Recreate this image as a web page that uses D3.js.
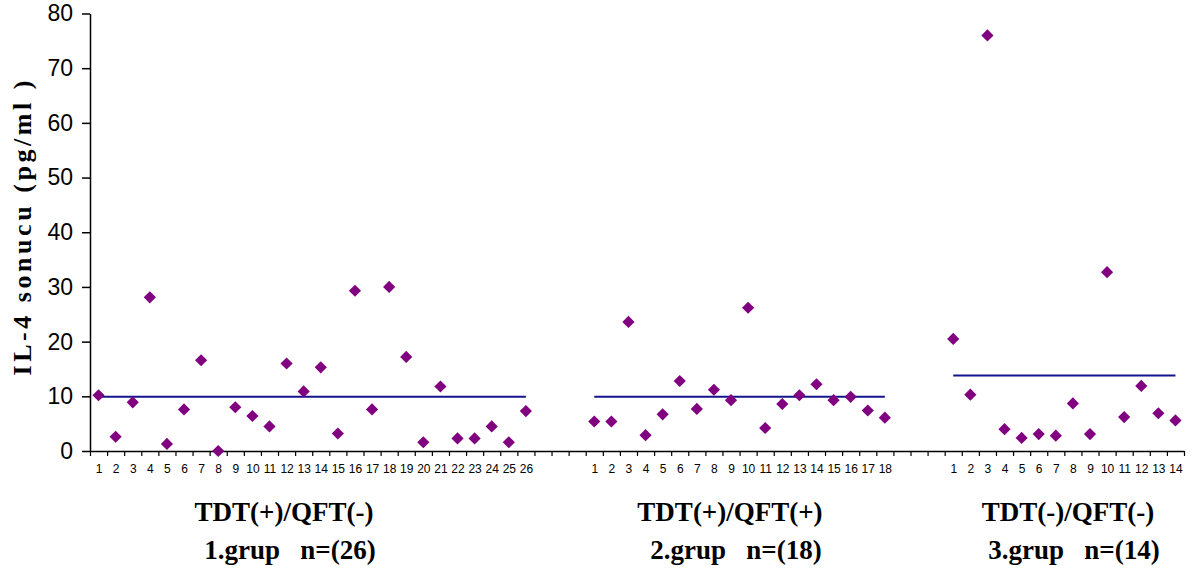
<!DOCTYPE html>
<html>
<head>
<meta charset="utf-8">
<script src="https://cdn.jsdelivr.net/npm/d3@7"></script>
<style>
  body { margin: 0; background: #fff; }
  svg { display: block; }
</style>
</head>
<body>
<div id="chart"></div>
<script>
// IL-4 values per group (pg/ml)
const group1 = [10.2, 2.6, 8.9, 28.1, 1.3, 7.6, 16.6, 0, 8.0, 6.4, 4.5, 16.0, 10.9, 15.3, 3.2, 29.3, 7.6, 30.0, 17.2, 1.6, 11.8, 2.3, 2.3, 4.5, 1.6, 7.3];
const group2 = [5.4, 5.4, 23.6, 2.9, 6.7, 12.8, 7.7, 11.2, 9.3, 26.2, 4.2, 8.6, 10.2, 12.2, 9.3, 9.9, 7.4, 6.1];
const group3 = [20.5, 10.3, 76.0, 4.0, 2.4, 3.1, 2.8, 8.7, 3.1, 32.7, 6.2, 11.9, 6.9, 5.6];
const groupMeans = [9.9, 9.9, 13.8];
const groupTitles = ["TDT(+)/QFT(-)", "TDT(+)/QFT(+)", "TDT(-)/QFT(-)"];
const groupSubtitles = ["1.grup   n=(26)", "2.grup   n=(18)", "3.grup   n=(14)"];
const yTicks = [0, 10, 20, 30, 40, 50, 60, 70, 80];
const gapSlots = 3;

const width = 1192, height = 583;
const plot = { left: 90, right: 1184, top: 13.5, bottom: 451 };
const labelX = [284, 730, 1068];

const svg = d3.select("#chart").append("svg")
    .attr("width", width)
    .attr("height", height);

// lay the groups out on one category axis, with empty slots between them
const groups = [group1, group2, group3];
let offset = 0;
const slots = [];
const points = [];
const means = [];
groups.forEach((vals, g) => {
    vals.forEach((v, i) => {
        slots.push({ pos: offset + i, label: String(i + 1) });
        points.push({ pos: offset + i, value: v });
    });
    means.push({ from: offset, to: offset + vals.length - 1, value: groupMeans[g] });
    offset += vals.length + (g < groups.length - 1 ? gapSlots : 0);
});
const totalSlots = offset;

const x = d3.scaleLinear().domain([0, totalSlots]).range([plot.left, plot.right]);
const y = d3.scaleLinear().domain([0, 80]).range([plot.bottom, plot.top]);

// Y axis
const yAxisG = svg.append("g")
    .attr("transform", `translate(${plot.left},0)`)
    .call(d3.axisLeft(y).tickValues(yTicks).tickSize(8).tickSizeOuter(0).tickPadding(9));
yAxisG.select(".domain").attr("stroke", "#000").attr("stroke-width", 1.5);
yAxisG.selectAll(".tick line").attr("stroke", "#000").attr("stroke-width", 1.5);
yAxisG.selectAll(".tick text")
    .attr("font-family", "'Liberation Sans Narrow', 'Arial Narrow', 'Liberation Sans', Arial, sans-serif")
    .attr("font-size", "23px")
    .attr("fill", "#000");

// X axis: ticks on slot boundaries, labels in the middle of the slots
const xAxisG = svg.append("g")
    .attr("transform", `translate(0,${plot.bottom})`)
    .call(d3.axisBottom(x).tickValues(d3.range(totalSlots + 1)).tickSize(5).tickSizeOuter(0).tickFormat(""));
xAxisG.select(".domain").attr("stroke", "#000").attr("stroke-width", 1.5);
xAxisG.selectAll(".tick line").attr("stroke", "#000").attr("stroke-width", 1.2);

const labelMap = new Map(slots.map(s => [s.pos + 0.5, s.label]));
const xLabelG = svg.append("g")
    .attr("transform", `translate(0,${plot.bottom})`)
    .call(d3.axisBottom(x).tickValues(slots.map(s => s.pos + 0.5)).tickSize(0).tickPadding(13)
        .tickFormat(d => labelMap.get(d)));
xLabelG.select(".domain").remove();
xLabelG.selectAll(".tick text")
    .attr("font-family", "'Liberation Sans Narrow', 'Arial Narrow', 'Liberation Sans', Arial, sans-serif")
    .attr("font-size", "12px")
    .attr("fill", "#000");

// mean lines
svg.append("g").selectAll("line")
    .data(means)
    .join("line")
    .attr("x1", d => x(d.from + 0.5))
    .attr("x2", d => x(d.to + 0.5))
    .attr("y1", d => y(d.value))
    .attr("y2", d => y(d.value))
    .attr("stroke", "#14148c")
    .attr("stroke-width", 2);

// diamonds
const diamond = d3.symbol(d3.symbolSquare, 74);
svg.append("g").selectAll("path")
    .data(points)
    .join("path")
    .attr("d", diamond)
    .attr("transform", d => `translate(${x(d.pos + 0.5)},${y(d.value)}) rotate(45)`)
    .attr("fill", "#800080");

// Y title
svg.append("text")
    .attr("transform", "translate(31,228) rotate(-90)")
    .attr("text-anchor", "middle")
    .attr("font-family", "'Liberation Serif', 'Times New Roman', serif")
    .attr("font-weight", "bold")
    .attr("font-size", "26px")
    .attr("textLength", 295)
    .attr("lengthAdjust", "spacing")
    .text("IL-4 sonucu (pg/ml )");

// group labels
const groupLabels = svg.append("g")
    .attr("font-family", "'Liberation Serif', 'Times New Roman', serif")
    .attr("font-weight", "bold")
    .attr("font-size", "27px")
    .attr("fill", "#000")
    .attr("text-anchor", "middle");
groupLabels.selectAll("text.title")
    .data(groupTitles)
    .join("text")
    .attr("class", "title")
    .attr("x", (d, i) => labelX[i])
    .attr("y", 521)
    .text(d => d);
groupLabels.selectAll("text.sub")
    .data(groupSubtitles)
    .join("text")
    .attr("class", "sub")
    .attr("x", (d, i) => labelX[i] + 6)
    .attr("y", 559)
    .style("white-space", "pre")
    .text(d => d);
</script>
</body>
</html>
